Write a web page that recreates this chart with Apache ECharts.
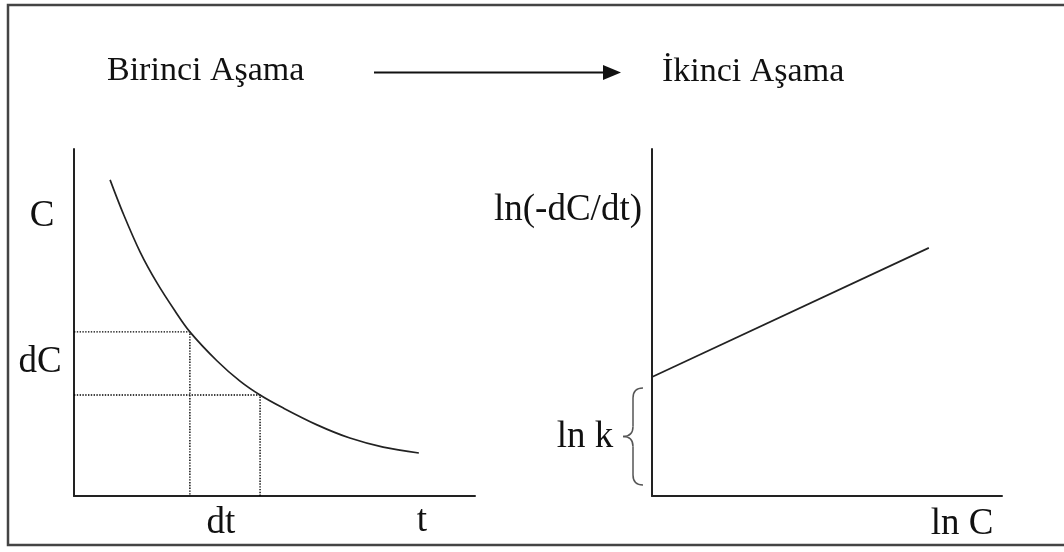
<!DOCTYPE html>
<html>
<head>
<meta charset="utf-8">
<style>
  html, body { margin: 0; padding: 0; background: #fff; }
  #chart { width: 1064px; height: 552px; }
</style>
<script src="https://cdn.jsdelivr.net/npm/echarts@6/dist/echarts.min.js"></script>
</head>
<body>
<div id="chart"></div>
<script>
// Stage 1: concentration C against time t (decay curve)
const curveT = [0.90, 1.22, 1.65, 2.07, 2.52, 2.89, 3.57, 4.14, 4.64, 5.21, 6.06, 6.88, 7.71, 8.60];
const curveC = [9.11, 8.16, 7.03, 6.14, 5.33, 4.73, 3.89, 3.31, 2.91, 2.54, 2.05, 1.67, 1.41, 1.24];

// Two readings on the curve used to show dC and dt
const guideT = [2.89, 4.64];
const guideC = [4.73, 2.91];

// Stage 2: ln(-dC/dt) against ln C (straight line, intercept ln k)
const lnC = [0, 7.91];
const lnRate = [3.43, 7.15];

// Text drawn on the figure
const stageLabels = ['Birinci Aşama', 'İkinci Aşama'];
const leftAxisNames = { y: 'C', dy: 'dC', dx: 'dt', x: 't' };
const rightAxisNames = { y: 'ln(-dC/dt)', x: 'ln C', intercept: 'ln k' };

const FONT = '"Liberation Serif", "Times New Roman", serif';
const INK = '#111';
const TITLE_SIZE = 34;
const LABEL_SIZE = 37;

const chart = echarts.init(document.getElementById('chart'), null, { renderer: 'canvas' });

function plainAxis(gridIndex) {
  return {
    gridIndex: gridIndex,
    type: 'value',
    min: 0,
    max: 10,
    axisLine: { show: true, onZero: false, lineStyle: { color: '#222', width: 2 } },
    axisTick: { show: false },
    axisLabel: { show: false },
    splitLine: { show: false }
  };
}

const guideSeries = guideT.map(function (t, i) {
  return {
    type: 'line',
    xAxisIndex: 0,
    yAxisIndex: 0,
    data: [[0, guideC[i]], [t, guideC[i]], [t, 0]],
    symbol: 'none',
    silent: true,
    lineStyle: { color: '#000', width: 1.4, type: [1.4, 1.4] },
    z: 1
  };
});

const option = {
  animation: false,
  backgroundColor: '#fff',
  grid: [
    { left: 74, top: 149, width: 401, height: 347 },
    { left: 652, top: 149, width: 350, height: 347 }
  ],
  xAxis: [plainAxis(0), plainAxis(1)],
  yAxis: [plainAxis(0), plainAxis(1)],
  series: guideSeries.concat([
    {
      type: 'line',
      xAxisIndex: 0,
      yAxisIndex: 0,
      data: curveT.map(function (t, i) { return [t, curveC[i]]; }),
      smooth: 0.35,
      symbol: 'none',
      silent: true,
      lineStyle: { color: '#222', width: 1.7 },
      z: 3
    },
    {
      type: 'line',
      xAxisIndex: 1,
      yAxisIndex: 1,
      data: lnC.map(function (x, i) { return [x, lnRate[i]]; }),
      symbol: 'none',
      silent: true,
      lineStyle: { color: '#222', width: 1.7 },
      z: 3
    }
  ])
};

chart.setOption(option);

// Annotations placed from the axes' own scales
const p = function (grid, x, y) { return chart.convertToPixel({ gridIndex: grid }, [x, y]); };
const originR = p(1, 0, 0);
const interceptR = p(1, 0, lnRate[0]);

function label(text, x, y, align, size) {
  return {
    type: 'text',
    x: x,
    y: y,
    silent: true,
    style: {
      text: text,
      fill: INK,
      font: (size || LABEL_SIZE) + 'px ' + FONT,
      align: align || 'center',
      verticalAlign: 'middle'
    }
  };
}

// Curly brace marking the intercept ln k, built from curve and line pieces
const bTop = interceptR[1] + 11;
const bBot = originR[1] - 11;
const bMid = (bTop + bBot) / 2;
const bx = originR[0] - 9;
const bIn = bx - 10;
const bOut = bx - 20;
const braceStyle = { fill: 'none', stroke: '#555', lineWidth: 1.5 };
function qCurve(x1, y1, cx, cy, x2, y2) {
  return {
    type: 'bezierCurve',
    silent: true,
    shape: { x1: x1, y1: y1, cpx1: cx, cpy1: cy, x2: x2, y2: y2 },
    style: braceStyle
  };
}
function seg(x1, y1, x2, y2) {
  return {
    type: 'line',
    silent: true,
    shape: { x1: x1, y1: y1, x2: x2, y2: y2 },
    style: braceStyle
  };
}
const brace = [
  qCurve(bx, bTop, bIn, bTop, bIn, bTop + 10),
  seg(bIn, bTop + 10, bIn, bMid - 10),
  qCurve(bIn, bMid - 10, bIn, bMid, bOut, bMid),
  qCurve(bOut, bMid, bIn, bMid, bIn, bMid + 10),
  seg(bIn, bMid + 10, bIn, bBot - 10),
  qCurve(bIn, bBot - 10, bIn, bBot, bx, bBot)
];

const dtCenter = (p(0, guideT[0], 0)[0] + p(0, guideT[1], 0)[0]) / 2;

chart.setOption({
  graphic: [
    // frame
    {
      type: 'rect',
      silent: true,
      shape: { x: 8, y: 5, width: 1080, height: 540 },
      style: { fill: 'none', stroke: '#444', lineWidth: 2.5 }
    },
    // stage titles and the arrow between them
    label(stageLabels[0], 107, 71, 'left', TITLE_SIZE),
    label(stageLabels[1], 662, 72, 'left', TITLE_SIZE),
    {
      type: 'line',
      silent: true,
      shape: { x1: 374, y1: 72.5, x2: 606, y2: 72.5 },
      style: { stroke: '#111', lineWidth: 2 }
    },
    {
      type: 'polygon',
      silent: true,
      shape: { points: [[603, 65], [621, 72.5], [603, 80]] },
      style: { fill: '#111' }
    },
    // left panel labels
    label(leftAxisNames.y, 42, 216),
    label(leftAxisNames.dy, 40, 362),
    label(leftAxisNames.dx, dtCenter - 4, 523),
    label(leftAxisNames.x, 422, 521),
    // right panel labels
    label(rightAxisNames.y, originR[0] - 10, 210, 'right'),
    label(rightAxisNames.intercept, 585, 437),
    label(rightAxisNames.x, 962, 524)
  ].concat(brace)
});
</script>
</body>
</html>
